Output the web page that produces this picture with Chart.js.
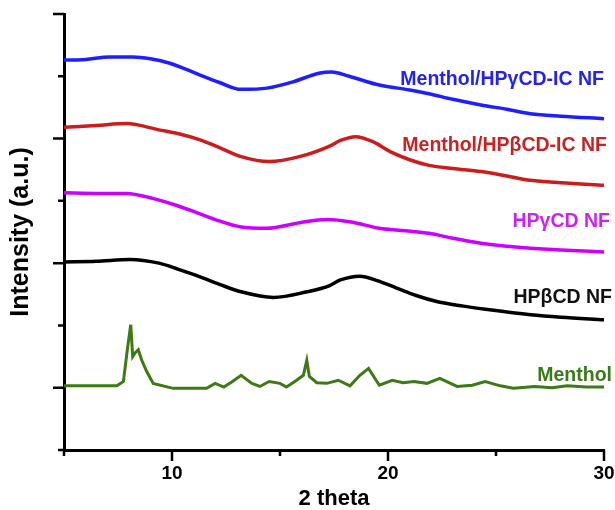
<!DOCTYPE html>
<html>
<head>
<meta charset="utf-8">
<title>XRD patterns</title>
<script src="https://cdn.jsdelivr.net/npm/chart.js@4.4.0/dist/chart.umd.min.js"></script>
<style>
  body { margin: 0; background: #fff; }
  canvas { display: block; }
</style>
</head>
<body>
<canvas id="xrdChart" width="615" height="510"></canvas>
<script>
'use strict';

// data (2 theta vs offset intensity)

var blueX = [5, 6, 7.1, 8.2, 9, 9.9, 10.6, 11.3, 12.2, 13.2, 14.4, 15.6, 16.8, 17.4, 18.2, 19.6, 21, 21.9, 23, 24.3, 25.5, 26.6, 28, 30];
var blueY = [6.26, 6.27, 6.31, 6.31, 6.28, 6.21, 6.12, 6.02, 5.90, 5.79, 5.81, 5.91, 6.05, 6.07, 6.00, 5.86, 5.78, 5.72, 5.63, 5.54, 5.47, 5.40, 5.36, 5.32];

var redX = [5, 6.5, 7.9, 9.4, 10.4, 11.3, 12.3, 13.2, 14.5, 15.9, 17.3, 17.8, 18.5, 19.3, 20.1, 21, 21.9, 23, 24.3, 25.5, 26.6, 28, 30];
var redY = [5.18, 5.21, 5.24, 5.14, 5.07, 4.98, 4.84, 4.71, 4.63, 4.71, 4.88, 4.97, 5.03, 4.95, 4.79, 4.66, 4.57, 4.52, 4.47, 4.40, 4.33, 4.29, 4.25];

var magentaX = [5, 6.5, 7.9, 9.1, 10, 11, 12, 13.2, 14.4, 15.9, 17.2, 18.3, 19.6, 20.8, 21.9, 23, 24.3, 25.5, 26.6, 28, 30];
var magentaY = [4.13, 4.12, 4.12, 4.04, 3.95, 3.83, 3.70, 3.58, 3.56, 3.65, 3.70, 3.66, 3.56, 3.52, 3.48, 3.40, 3.32, 3.27, 3.24, 3.21, 3.18];

var blackX = [5, 6.5, 8.05, 9.4, 10.3, 11.3, 12.2, 13.2, 14.7, 16.25, 17.3, 17.8, 18.7, 19.5, 20.4, 21.3, 22.3, 23.5, 24.7, 26.6, 28, 30];
var blackY = [3.02, 3.03, 3.06, 3.00, 2.90, 2.78, 2.66, 2.54, 2.45, 2.54, 2.64, 2.73, 2.79, 2.72, 2.60, 2.48, 2.38, 2.31, 2.25, 2.17, 2.13, 2.09];

var mentholX = [5, 7.45, 7.75, 7.95, 8.09, 8.18, 8.29, 8.44, 8.6, 8.83, 9.13, 10.05, 11.6, 12.0, 12.4, 12.8, 13.2, 13.7, 14.07, 14.5, 15.0, 15.3, 15.77, 16.08, 16.24, 16.36, 16.7, 17.16, 17.7, 18.24, 18.7, 19.1, 19.3, 19.6, 20.2, 20.7, 21.2, 21.8, 22.4, 23.2, 23.9, 24.5, 25.2, 25.8, 26.8, 27.6, 28.3, 29.2, 30];
var mentholY = [1.03, 1.03, 1.10, 1.66, 2.01, 1.50, 1.56, 1.61, 1.44, 1.26, 1.07, 0.99, 0.99, 1.07, 1.01, 1.10, 1.20, 1.07, 1.02, 1.10, 1.07, 1.01, 1.12, 1.20, 1.44, 1.18, 1.08, 1.07, 1.12, 1.03, 1.20, 1.31, 1.20, 1.04, 1.12, 1.08, 1.10, 1.07, 1.15, 1.02, 1.04, 1.10, 1.03, 0.99, 1.02, 1.00, 1.03, 1.01, 1.01];

var seriesNames = ['Menthol/HP\u03b3CD-IC NF', 'Menthol/HP\u03b2CD-IC NF', 'HP\u03b3CD NF', 'HP\u03b2CD NF', 'Menthol'];

var xTicks = [5, 10, 15, 20, 25, 30];
var xTickLabels = [10, 20, 30];
var yTicks = [0, 1, 2, 3, 4, 5, 6, 7];

// helpers

function toPoints(xs, ys) {
  var pts = [];
  for (var i = 0; i < xs.length; i++) {
    pts.push({ x: xs[i], y: ys[i] });
  }
  return pts;
}

function makeSet(name, xs, ys, color, smooth) {
  return {
    label: name,
    data: toPoints(xs, ys),
    borderColor: color,
    borderWidth: smooth ? 3.5 : 3,
    pointRadius: 0,
    cubicInterpolationMode: smooth ? 'monotone' : 'default',
    tension: smooth ? 0.4 : 0,
    fill: false
  };
}

// text labels sitting next to each trace (data coords)
var traceLabels = [
  { text: seriesNames[0], color: '#2424e8', y: 5.95, dx: 0 },
  { text: seriesNames[1], color: '#c82222', y: 4.88, dx: 3 },
  { text: seriesNames[2], color: '#cc22ee', y: 3.66, dx: 6 },
  { text: seriesNames[3], color: '#111111', y: 2.44, dx: 8 },
  { text: seriesNames[4], color: '#3a7a1a', y: 1.20, dx: 8 }
];

var labelPlugin = {
  id: 'traceLabels',
  afterDatasetsDraw: function (chart) {
    var ctx = chart.ctx;
    var xs = chart.scales.x;
    var ys = chart.scales.y;
    ctx.save();
    ctx.font = 'bold 19.5px "Liberation Sans", Arial, sans-serif';
    ctx.textAlign = 'right';
    ctx.textBaseline = 'middle';
    for (var i = 0; i < traceLabels.length; i++) {
      var lab = traceLabels[i];
      ctx.fillStyle = lab.color;
      ctx.fillText(lab.text, xs.getPixelForValue(30) + lab.dx, ys.getPixelForValue(lab.y));
    }
    ctx.restore();
  }
};

// tick marks: long on major, short on minor
var tickPlugin = {
  id: 'axisTicks',
  afterDraw: function (chart) {
    var ctx = chart.ctx;
    var xs = chart.scales.x;
    var ys = chart.scales.y;
    var area = chart.chartArea;
    ctx.save();
    ctx.strokeStyle = '#000';
    ctx.lineWidth = 2.5;
    ctx.beginPath();
    for (var i = 0; i < xTicks.length; i++) {
      var px = xs.getPixelForValue(xTicks[i]);
      var len = xTickLabels.includes(xTicks[i]) ? 11 : 6;
      ctx.moveTo(px, area.bottom);
      ctx.lineTo(px, area.bottom + len);
    }
    for (var j = 0; j < yTicks.length; j++) {
      var py = ys.getPixelForValue(yTicks[j]);
      var ylen = yTicks[j] % 2 === 1 ? 11 : 6;
      ctx.moveTo(area.left, py);
      ctx.lineTo(area.left - ylen, py);
    }
    ctx.stroke();
    ctx.restore();
  }
};

var ctx = document.getElementById('xrdChart').getContext('2d');

var chart = new Chart(ctx, {
  type: 'line',
  data: {
    datasets: [
      makeSet(seriesNames[0], blueX, blueY, '#1e1eff', true),
      makeSet(seriesNames[1], redX, redY, '#cc1c1c', true),
      makeSet(seriesNames[2], magentaX, magentaY, '#cc00ff', true),
      makeSet(seriesNames[3], blackX, blackY, '#000000', true),
      makeSet(seriesNames[4], mentholX, mentholY, '#3d7a16', false)
    ]
  },
  options: {
    responsive: false,
    animation: false,
    layout: { padding: { top: 14, right: 0, left: 0, bottom: 0 } },
    plugins: {
      legend: { display: false },
      tooltip: { enabled: false }
    },
    scales: {
      x: {
        type: 'linear',
        min: 5,
        max: 30,
        afterFit: function (scale) {
          scale.height = 60;
          scale.paddingLeft = 0;
          scale.paddingRight = 11;
        },
        afterBuildTicks: function (scale) {
          scale.ticks = xTicks.map(function (v) { return { value: v }; });
        },
        ticks: {
          color: '#000',
          padding: 12,
          maxRotation: 0,
          autoSkip: false,
          font: { family: '"Liberation Sans", Arial, sans-serif', size: 19, weight: 'bold' },
          callback: function (v) { return xTickLabels.includes(v) ? String(v) : ''; }
        },
        grid: { display: false, drawTicks: false },
        border: { display: true, color: '#000', width: 3 },
        title: {
          display: true,
          text: '2 theta',
          color: '#000',
          padding: { top: 0, bottom: 0 },
          font: { family: '"Liberation Sans", Arial, sans-serif', size: 22, weight: 'bold', lineHeight: 1 }
        }
      },
      y: {
        type: 'linear',
        min: 0,
        max: 7,
        afterFit: function (scale) { scale.width = 64; },
        ticks: { display: false, stepSize: 1 },
        grid: { display: false, drawTicks: false },
        border: { display: true, color: '#000', width: 3 },
        title: {
          display: true,
          text: 'Intensity (a.u.)',
          color: '#000',
          padding: { top: 6, bottom: 0 },
          font: { family: '"Liberation Sans", Arial, sans-serif', size: 25, weight: 'bold', lineHeight: 1.2 }
        }
      }
    }
  },
  plugins: [labelPlugin, tickPlugin]
});
</script>
</body>
</html>
